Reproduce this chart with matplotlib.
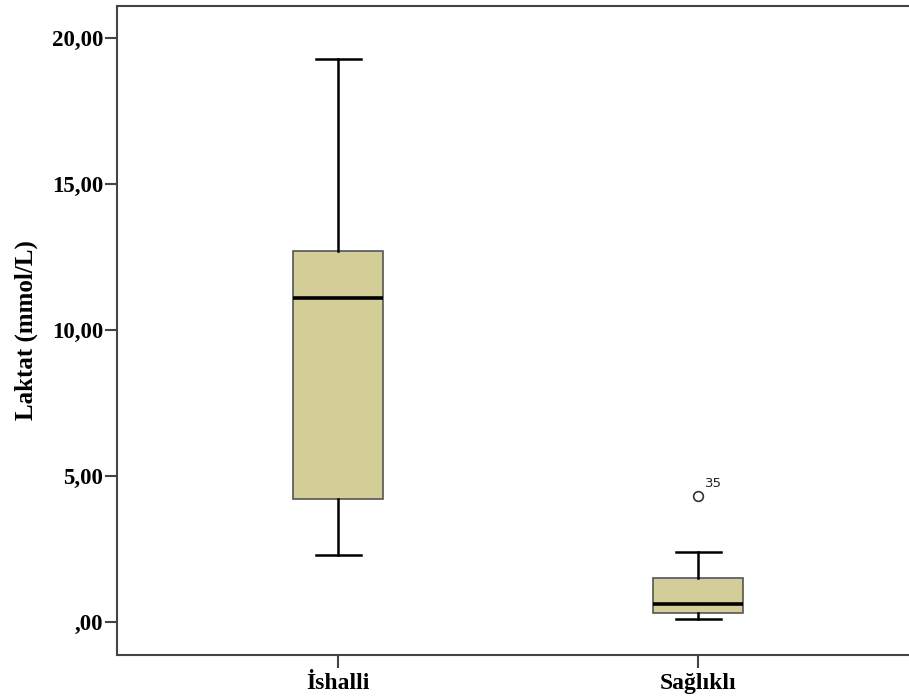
import matplotlib.pyplot as plt

# Boxplot summary values
groups = ["İshalli", "Sağlıklı"]
whislo = [2.30, 0.10]
q1 = [4.20, 0.30]
med = [11.10, 0.60]
q3 = [12.70, 1.50]
whishi = [19.30, 2.40]
outliers = [[], [4.30]]
outlier_ids = [[], ["35"]]

y_ticks = [0, 5, 10, 15, 20]
y_tick_labels = [",00", "5,00", "10,00", "15,00", "20,00"]

box_fill = "#D3CE98"
spine_col = "#444444"

fig = plt.figure(figsize=(9.09, 7.0), dpi=100)
ax = fig.add_axes([0.1287, 0.0643, 0.8713, 0.927])

stats = []
for i, name in enumerate(groups):
    stats.append({
        "label": name,
        "whislo": whislo[i],
        "q1": q1[i],
        "med": med[i],
        "q3": q3[i],
        "whishi": whishi[i],
        "fliers": outliers[i],
    })

positions = [1, 2]
ax.bxp(
    stats,
    positions=positions,
    widths=0.25,
    patch_artist=True,
    showfliers=True,
    boxprops=dict(facecolor=box_fill, edgecolor="#555555", linewidth=1.2),
    medianprops=dict(color="black", linewidth=2.6),
    whiskerprops=dict(color="black", linewidth=1.8),
    capprops=dict(color="black", linewidth=1.8),
    capwidths=0.125,
    flierprops=dict(marker="o", markerfacecolor="white", markeredgecolor="#333333",
                    markersize=7, markeredgewidth=1.2),
)

for pos, vals, ids in zip(positions, outliers, outlier_ids):
    for v, lab in zip(vals, ids):
        ax.annotate(lab, (pos, v), xytext=(5, 7), textcoords="offset points",
                    fontsize=9.5, family="DejaVu Sans", color="#222222")

ax.set_xlim(0.386, 2.586)
ax.set_ylim(-1.13, 21.1)
ax.set_yticks(y_ticks)
ax.set_yticklabels(y_tick_labels)
ax.set_xticks(positions)
ax.set_xticklabels(groups)

for lab in ax.get_yticklabels():
    lab.set_family("Liberation Serif")
    lab.set_fontweight("bold")
    lab.set_fontsize(16.5)
for lab in ax.get_xticklabels():
    lab.set_family("Liberation Serif")
    lab.set_fontweight("bold")
    lab.set_fontsize(17)

ax.set_ylabel("Laktat (mmol/L)", family="Liberation Serif", fontweight="bold",
              fontsize=18, labelpad=10)

ax.tick_params(axis="both", direction="out", length=9, width=1.5, color=spine_col, pad=1)
ax.tick_params(axis="x", pad=4)
ax.spines["right"].set_visible(False)
for s in ["left", "bottom", "top"]:
    ax.spines[s].set_color(spine_col)
    ax.spines[s].set_linewidth(1.5)

fig.savefig("out.png", dpi=100)
